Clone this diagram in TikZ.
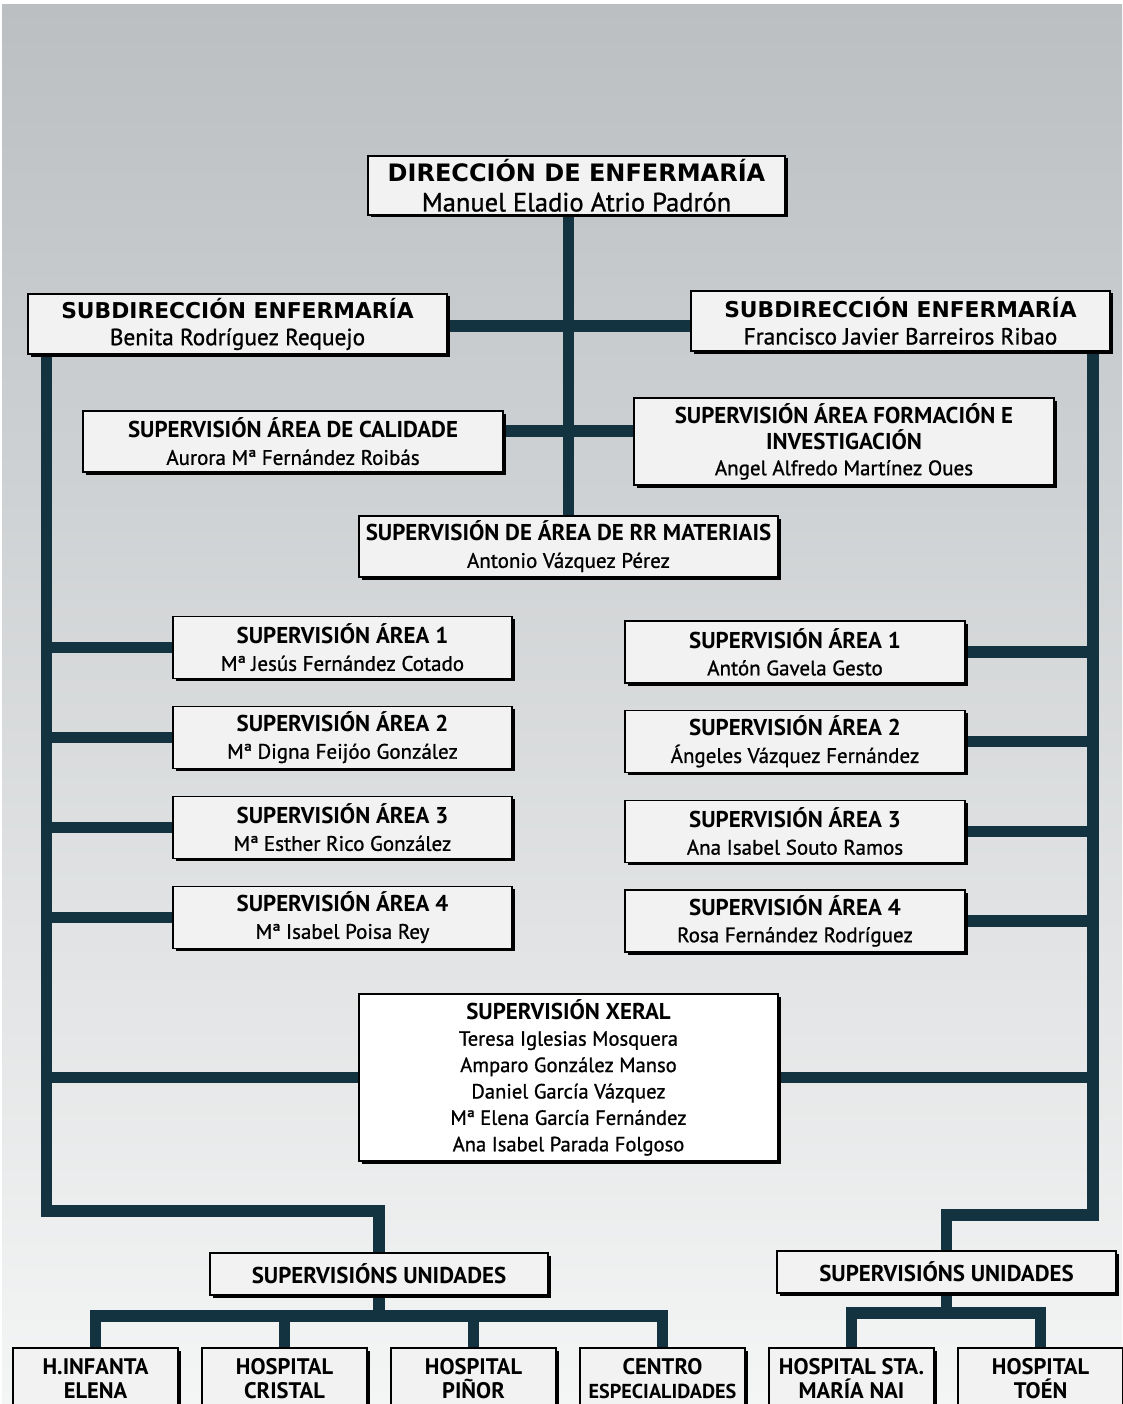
\documentclass[tikz,border=0pt]{standalone}
\usepackage{fontspec}
\setmainfont{PT Sans}
\newfontface\namefont{PT Sans}[FakeBold=1.0]
\newfontfamily\headfont{DejaVu Sans}
\usetikzlibrary{calc, shadows}
\definecolor{bgtop}{RGB}{187,191,194}
\definecolor{bgbottom}{RGB}{244,245,245}
\definecolor{linkblue}{RGB}{18,51,63}
\definecolor{boxgray}{RGB}{242,242,242}
\pgfdeclarelayer{back}
\pgfdeclarelayer{links}
\pgfsetlayers{back,links,main}

\begin{document}
\begin{tikzpicture}[x=1pt, y=-1pt,
    box/.style={draw=black, line width=1.4pt, fill=boxgray, inner sep=0pt, align=center,
        drop shadow={shadow xshift=2.5pt, shadow yshift=-2.5pt, fill=black, opacity=1},
        font=\fontsize{22.9}{27}\selectfont\bfseries},
    unitbox/.style={box, minimum width=165pt, minimum height=62pt, font=\fontsize{22.5}{24}\selectfont\bfseries},
    link/.style={draw=linkblue, line width=11.5pt}]
    \useasboundingbox (0,0) rectangle (1122,1404);

    % Background
    \begin{pgfonlayer}{back}
        \shade[top color=bgtop, bottom color=bgbottom] (2,5) rectangle (1122,1404);
    \end{pgfonlayer}

    % Direction and subdirections
    \node[box, minimum width=417pt, minimum height=59pt, font=\fontsize{24}{30}\selectfont] (dir) at (576.5,185.5)
        {{\headfont\bfseries DIRECCIÓN DE ENFERMARÍA}\\ {\namefont\fontsize{26.5}{30}\selectfont Manuel Eladio Atrio Padrón}};
    \node[box, minimum width=419pt, minimum height=60pt, font=\fontsize{21.8}{27}\selectfont] (subL) at (237.5,324)
        {{\headfont\bfseries SUBDIRECCIÓN ENFERMARÍA}\\ {\namefont\fontsize{23.3}{27}\selectfont Benita Rodríguez Requejo}};
    \node[box, minimum width=419pt, minimum height=60pt, font=\fontsize{21.8}{27}\selectfont] (subR) at (900.5,321)
        {{\headfont\bfseries SUBDIRECCIÓN ENFERMARÍA}\\ {\namefont\fontsize{23.3}{27}\selectfont Francisco Javier Barreiros Ribao}};

    % Area supervisions under direction
    \node[box, minimum width=420pt, minimum height=61pt] (cal) at (293,441.5)
        {SUPERVISIÓN ÁREA DE CALIDADE\\ {\namefont\fontsize{21}{27}\selectfont Aurora Mª Fernández Roibás}};
    \node[box, minimum width=420pt, minimum height=87pt, font=\fontsize{22.9}{26}\selectfont\bfseries] (form) at (844,441.5)
        {SUPERVISIÓN ÁREA FORMACIÓN E\\ INVESTIGACIÓN\\ {\namefont\fontsize{21}{26}\selectfont Angel Alfredo Martínez Oues}};
    \node[box, minimum width=419pt, minimum height=61pt] (mat) at (568.5,546.5)
        {SUPERVISIÓN DE ÁREA DE RR MATERIAIS\\ {\namefont\fontsize{21}{27}\selectfont Antonio Vázquez Pérez}};

    % Left areas
    \node[box, minimum width=339pt, minimum height=62pt] (L1) at (342.5,647.5)
        {SUPERVISIÓN ÁREA 1\\ {\namefont\fontsize{21}{27}\selectfont Mª Jesús Fernández Cotado}};
    \node[box, minimum width=339pt, minimum height=62pt] (L2) at (342.5,737.5)
        {SUPERVISIÓN ÁREA 2\\ {\namefont\fontsize{21}{27}\selectfont Mª Digna Feijóo González}};
    \node[box, minimum width=339pt, minimum height=62pt] (L3) at (342.5,827.5)
        {SUPERVISIÓN ÁREA 3\\ {\namefont\fontsize{21}{27}\selectfont Mª Esther Rico González}};
    \node[box, minimum width=339pt, minimum height=62pt] (L4) at (342.5,917.5)
        {SUPERVISIÓN ÁREA 4\\ {\namefont\fontsize{21}{27}\selectfont Mª Isabel Poisa Rey}};

    % Right areas
    \node[box, minimum width=340pt, minimum height=62pt] (R1) at (795,652)
        {SUPERVISIÓN ÁREA 1\\ {\namefont\fontsize{21}{27}\selectfont Antón Gavela Gesto}};
    \node[box, minimum width=340pt, minimum height=62pt] (R2) at (795,741.7)
        {SUPERVISIÓN ÁREA 2\\ {\namefont\fontsize{21}{27}\selectfont Ángeles Vázquez Fernández}};
    \node[box, minimum width=340pt, minimum height=62pt] (R3) at (795,831.3)
        {SUPERVISIÓN ÁREA 3\\ {\namefont\fontsize{21}{27}\selectfont Ana Isabel Souto Ramos}};
    \node[box, minimum width=340pt, minimum height=62pt] (R4) at (795,921)
        {SUPERVISIÓN ÁREA 4\\ {\namefont\fontsize{21}{27}\selectfont Rosa Fernández Rodríguez}};

    % General supervision
    \node[box, fill=white, minimum width=419pt, minimum height=167pt, font=\fontsize{22.9}{26.4}\selectfont\bfseries] (xeral) at (568.5,1077.5)
        {SUPERVISIÓN XERAL\\ {\namefont\fontsize{20.6}{26.4}\selectfont Teresa Iglesias Mosquera}\\ {\namefont\fontsize{20.6}{26.4}\selectfont Amparo González Manso}\\
         {\namefont\fontsize{20.6}{26.4}\selectfont Daniel García Vázquez}\\ {\namefont\fontsize{20.6}{26.4}\selectfont Mª Elena García Fernández}\\
         {\namefont\fontsize{20.6}{26.4}\selectfont Ana Isabel Parada Folgoso}};

    % Unit supervisions
    \node[box, minimum width=338pt, minimum height=42pt] (unidL) at (379,1274) {SUPERVISIÓNS UNIDADES};
    \node[box, minimum width=339pt, minimum height=42pt] (unidR) at (946.5,1272) {SUPERVISIÓNS UNIDADES};

    \node[unitbox] (hie) at (95.5,1379) {H.INFANTA\\ ELENA};
    \node[unitbox] (cri) at (284.5,1379) {HOSPITAL\\ CRISTAL};
    \node[unitbox] (pin) at (473.5,1379) {HOSPITAL\\ PIÑOR};
    \node[unitbox, font=\fontsize{20.2}{24}\selectfont\bfseries] (cen) at (662.5,1379) {\fontsize{22.5}{24}\selectfont CENTRO\\ ESPECIALIDADES};
    \node[unitbox] (sta) at (851.5,1379) {HOSPITAL STA.\\ MARÍA NAI};
    \node[unitbox] (toe) at (1040.5,1379) {HOSPITAL\\ TOÉN};

    % Connectors
    \coordinate (subbar) at (569.5,326);
    \coordinate (calbar) at (569.5,431);
    \coordinate (lcorner) at (46.5,1211);
    \coordinate (rcorner) at (1093,1215);
    \coordinate (lbus) at (379,1316);
    \coordinate (rbus) at (946.5,1313);
    \begin{pgfonlayer}{links}
        \draw[link] (mat.north |- dir.south) -- (mat.north);
        \draw[link] (subbar -| subL.east) -- (subbar -| subR.west);
        \draw[link] (calbar -| cal.east) -- (calbar -| form.west);

        \draw[link] (subL.south -| lcorner) -- (lcorner) -| (unidL.north);
        \draw[link] (subR.south -| rcorner) -- (rcorner) -| (unidR.north);

        \draw[link] (L1.west -| lcorner) -- (L1.west);
        \draw[link] (L2.west -| lcorner) -- (L2.west);
        \draw[link] (L3.west -| lcorner) -- (L3.west);
        \draw[link] (L4.west -| lcorner) -- (L4.west);
        \draw[link] (R1.east) -- (R1.east -| rcorner);
        \draw[link] (R2.east) -- (R2.east -| rcorner);
        \draw[link] (R3.east) -- (R3.east -| rcorner);
        \draw[link] (R4.east) -- (R4.east -| rcorner);
        \draw[link] (xeral.west -| lcorner) -- (xeral.west);
        \draw[link] (xeral.east) -- (xeral.east -| rcorner);

        \draw[link] (unidL.south) -- (lbus);
        \draw[link] (hie.north) -- (hie.north |- lbus) -- (cen.north |- lbus) -- (cen.north);
        \draw[link] (cri.north |- lbus) -- (cri.north);
        \draw[link] (pin.north |- lbus) -- (pin.north);
        \draw[link] (unidR.south) -- (rbus);
        \draw[link] (sta.north) -- (sta.north |- rbus) -- (toe.north |- rbus) -- (toe.north);
    \end{pgfonlayer}
\end{tikzpicture}
\end{document}
